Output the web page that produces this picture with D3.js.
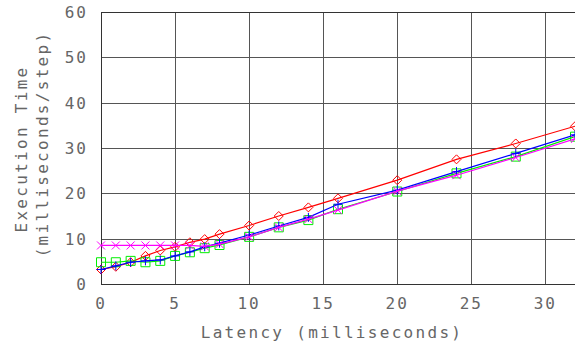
<!DOCTYPE html>
<html>
<head>
<meta charset="utf-8">
<script src="https://cdn.jsdelivr.net/npm/d3@7"></script>
<style>
  body { margin: 0; background: #fff; }
  text { font-family: "DejaVu Sans Mono", monospace; fill: #666; }
</style>
</head>
<body>
<div id="chart"></div>
<script>
'use strict';
// execution time vs latency, four runs

const latency = [0, 1, 2, 3, 4, 5, 6, 7, 8, 10, 12, 14, 16, 20, 24, 28, 32];
const redValues     = [3.2, 3.8, 4.8, 6.2, 7.4, 8.2, 9.2, 9.9, 11.0, 12.9, 15.0, 16.9, 18.9, 22.9, 27.5, 31.0, 34.8];
const greenValues   = [4.8, 4.8, 5.1, 4.8, 5.1, 6.2, 7.0, 7.9, 8.6, 10.4, 12.5, 14.1, 16.5, 20.4, 24.4, 28.1, 32.5];
const blueValues    = [3.2, 4.0, 4.8, 5.1, 5.3, 6.2, 7.1, 8.2, 9.0, 10.8, 12.8, 14.7, 17.6, 20.7, 24.8, 28.8, 32.9];
const magentaValues = [8.5, 8.5, 8.5, 8.5, 8.5, 8.5, 8.5, 8.3, 8.8, 10.4, 12.5, 14.3, 16.3, 20.5, 24.0, 27.9, 32.0];

const xTicks = [0, 5, 10, 15, 20, 25, 30];
const yTicks = [0, 10, 20, 30, 40, 50, 60];

const width = 575, height = 349;
const margin = {top: 12, right: 0, bottom: 65, left: 101};

const svg = d3.select('#chart').append('svg')
  .attr('width', width)
  .attr('height', height);

const xScale = d3.scaleLinear()
  .domain([0, 32])
  .range([margin.left, width - margin.right]);

const yScale = d3.scaleLinear()
  .domain([0, 60])
  .range([height - margin.bottom, margin.top]);

// grid
const grid = svg.append('g')
  .attr('stroke', '#555')
  .attr('stroke-width', 1)
  .attr('shape-rendering', 'crispEdges');

grid.selectAll('.vline')
  .data(xTicks)
  .enter()
  .append('line')
  .attr('x1', d => Math.round(xScale(d)) + 0.5)
  .attr('x2', d => Math.round(xScale(d)) + 0.5)
  .attr('y1', yScale(0))
  .attr('y2', yScale(60));

grid.selectAll('.hline')
  .data(yTicks)
  .enter()
  .append('line')
  .attr('x1', xScale(0))
  .attr('x2', xScale(32))
  .attr('y1', d => Math.round(yScale(d)) + 0.5)
  .attr('y2', d => Math.round(yScale(d)) + 0.5);

// frame
svg.append('rect')
  .attr('x', xScale(0) + 0.5)
  .attr('y', yScale(60) + 0.5)
  .attr('width', xScale(32) - xScale(0))
  .attr('height', yScale(0) - yScale(60))
  .attr('fill', 'none')
  .attr('stroke', '#333')
  .attr('shape-rendering', 'crispEdges');

// tick labels
svg.append('g')
  .selectAll('text')
  .data(xTicks)
  .enter()
  .append('text')
  .attr('x', d => xScale(d))
  .attr('y', 309)
  .attr('text-anchor', 'middle')
  .style('font-size', '16px')
  .style('letter-spacing', '2px')
  .text(d => d);

svg.append('g')
  .selectAll('text')
  .data(yTicks)
  .enter()
  .append('text')
  .attr('x', 88)
  .attr('y', d => yScale(d) + 6)
  .attr('text-anchor', 'end')
  .style('font-size', '16px')
  .style('letter-spacing', '2px')
  .text(d => d);

// axis titles
svg.append('text')
  .attr('x', 332)
  .attr('y', 338)
  .attr('text-anchor', 'middle')
  .style('font-size', '16px')
  .style('letter-spacing', '2.3px')
  .text('Latency (milliseconds)');

svg.append('text')
  .attr('transform', 'translate(27,149) rotate(-90)')
  .attr('text-anchor', 'middle')
  .style('font-size', '16px')
  .style('letter-spacing', '2.3px')
  .text('Execution Time');

svg.append('text')
  .attr('transform', 'translate(48,144) rotate(-90)')
  .attr('text-anchor', 'middle')
  .style('font-size', '16px')
  .style('letter-spacing', '2.3px')
  .text('(milliseconds/step)');

// series
const line = d3.line()
  .x(d => xScale(d[0]))
  .y(d => yScale(d[1]));

const series = [
  {name: 'red', color: '#ff0000', values: redValues, marker: 'diamond'},
  {name: 'green', color: '#00ee00', values: greenValues, marker: 'square'},
  {name: 'blue', color: '#0000ff', values: blueValues, marker: 'plus'},
  {name: 'magenta', color: '#ff00ff', values: magentaValues, marker: 'cross'}
];

const markerPath = {
  diamond: 'M0,-4.5L4.5,0L0,4.5L-4.5,0Z',
  square: 'M-4.5,-4.5H4.5V4.5H-4.5Z',
  plus: 'M-4.5,0H4.5M0,-4.5V4.5',
  cross: 'M-4,-4L4,4M-4,4L4,-4'
};

series.forEach(function(s){
  const pts = latency.map((x, i) => [x, s.values[i]]);
  const g = svg.append('g');
  g.append('path')
    .datum(pts)
    .attr('d', line)
    .attr('fill', 'none')
    .attr('stroke', s.color)
    .attr('stroke-width', 1.2);
  g.selectAll('path.mk')
    .data(pts)
    .enter()
    .append('path')
    .attr('class', 'mk')
    .attr('transform', d => `translate(${xScale(d[0])},${yScale(d[1])})`)
    .attr('d', markerPath[s.marker])
    .attr('fill', 'none')
    .attr('stroke', s.color)
    .attr('stroke-width', 1);
});
</script>
</body>
</html>
